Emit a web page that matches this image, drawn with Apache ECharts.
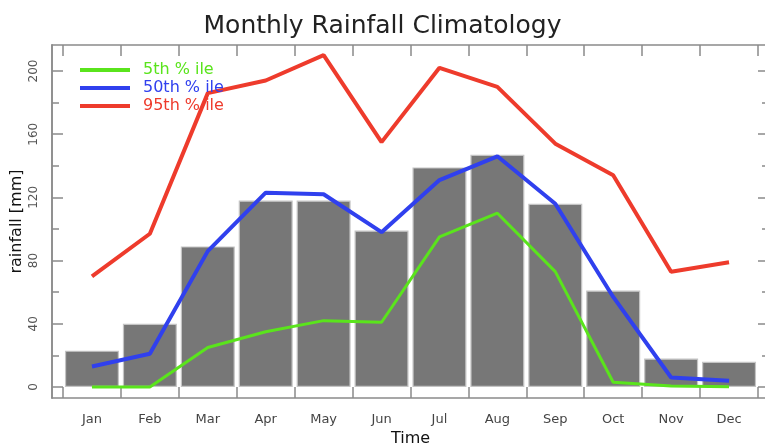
<!DOCTYPE html>
<html>
<head>
<meta charset="utf-8">
<script src="https://cdn.jsdelivr.net/npm/echarts@6/dist/echarts.min.js"></script>
<style>html,body{margin:0;padding:0;background:#fff}#c{width:765px;height:444px}</style>
</head>
<body>
<div id="c"></div>
<script>
// ---- data ----
var months = ['Jan','Feb','Mar','Apr','May','Jun','Jul','Aug','Sep','Oct','Nov','Dec'];
var meanRain = [23, 40, 89, 118, 118, 99, 139, 147, 116, 61, 18, 16];
var p5  = [0, 0, 25, 35, 42, 41, 95, 110, 73, 3, 0.6, 0.2];
var p50 = [13, 21, 86, 123, 122, 98, 131, 146, 116, 57, 6, 4];
var p95 = [70, 97, 186, 194, 210, 155, 202, 190, 154, 134, 73, 79];
var yMajorTicks = [0, 40, 80, 120, 160, 200];
var yMinorTicks = [20, 60, 100, 140, 180];

// ---- layout helpers ----
var font = 'DejaVu Sans';
var axisGray = '#8a8a8a';
var boundaries = months.map(function(m, i){ return i; }).concat([months.length]);
var centers = months.map(function(m, i){ return i + 0.5; });
function pts(arr){ return arr.map(function(v, i){ return [i + 0.5, v]; }); }

var green = '#5ae41c', blue = '#3040ee', red = '#ee3b2c';

var chart = echarts.init(document.getElementById('c'), null, {renderer:'canvas'});
var yBase = {
  type:'value', min:-6.96, max:216.46, splitLine:{show:false},
  axisLine:{show:true, onZero:false, lineStyle:{color:axisGray, width:1.5}}
};
function yAx(pos, ticks, len, labels, extra){
  var o = Object.assign({}, yBase, {
    position:pos,
    axisTick:{show:true, inside:true, length:len, customValues:ticks, lineStyle:{color:axisGray, width:1.5}},
    axisLabel:labels ? {show:true, customValues:ticks, rotate:90, margin:12, color:'#555', fontSize:12, fontFamily:font} : {show:false}
  });
  return Object.assign(o, extra || {});
}
chart.setOption({
  animation:false,
  backgroundColor:'#fff',
  title:{text:'Monthly Rainfall Climatology', left:'center', top:9,
    textStyle:{fontFamily:font, fontSize:25, fontWeight:'normal', color:'#222'}},
  legend:{
    orient:'vertical', left:80, top:62, padding:0, itemWidth:50, itemHeight:4, itemGap:2, icon:'rect',
    data:['5th % ile','50th % ile','95th % ile'],
    formatter:function(name){
      var k = {'5th % ile':'a','50th % ile':'b','95th % ile':'c'}[name];
      return '{' + k + '|' + name + '}';
    },
    textStyle:{fontFamily:font, fontSize:16, lineHeight:16,
      rich:{
        a:{color:green, fontFamily:font, fontSize:16, padding:[0,0,0,8]},
        b:{color:blue, fontFamily:font, fontSize:16, padding:[0,0,0,8]},
        c:{color:red, fontFamily:font, fontSize:16, padding:[0,0,0,8]}
      }}
  },
  grid:{left:52, top:45, width:717, height:353, containLabel:false, outerBoundsMode:'none'},
  xAxis:[
    {type:'value', position:'bottom', min:-0.19, max:12.19, splitLine:{show:false},
     axisLine:{show:true, onZero:false, lineStyle:{color:axisGray, width:1.5}},
     axisTick:{show:true, inside:true, length:11, customValues:boundaries, lineStyle:{color:axisGray, width:1.5}},
     axisLabel:{show:true, customValues:centers, margin:15, color:'#444', fontSize:13, fontFamily:font,
       formatter:function(v){ return months[Math.floor(v)]; }},
     name:'Time', nameLocation:'middle', nameGap:33, nameMoveOverlap:false,
     nameTextStyle:{fontFamily:font, fontSize:16, color:'#111'}},
    {type:'value', position:'top', min:-0.19, max:12.19, splitLine:{show:false},
     axisLine:{show:true, onZero:false, lineStyle:{color:axisGray, width:1.5}},
     axisTick:{show:true, inside:true, length:11, customValues:boundaries, lineStyle:{color:axisGray, width:1.5}},
     axisLabel:{show:false}}
  ],
  yAxis:[
    yAx('left', yMajorTicks, 11, true, {name:'rainfall [mm]', nameLocation:'middle', nameRotate:90, nameGap:27,
      nameMoveOverlap:false, nameTextStyle:{fontFamily:font, fontSize:16, color:'#111'}}),
    yAx('left', yMinorTicks, 7, false),
    yAx('right', yMajorTicks, 11, false),
    yAx('right', yMinorTicks, 7, false)
  ],
  series:[
    {type:'bar', name:'mean', data:pts(meanRain), barWidth:54, xAxisIndex:0, yAxisIndex:0,
     itemStyle:{color:'#777777', borderColor:'#c4c4c4', borderWidth:1.2}},
    {type:'line', name:'95th % ile', data:pts(p95), showSymbol:false, symbol:'none', xAxisIndex:0, yAxisIndex:0,
     lineStyle:{color:red, width:4}, itemStyle:{color:red}},
    {type:'line', name:'50th % ile', data:pts(p50), showSymbol:false, symbol:'none', xAxisIndex:0, yAxisIndex:0,
     lineStyle:{color:blue, width:4}, itemStyle:{color:blue}},
    {type:'line', name:'5th % ile', data:pts(p5), showSymbol:false, symbol:'none', xAxisIndex:0, yAxisIndex:0,
     lineStyle:{color:green, width:3}, itemStyle:{color:green}}
  ]
});
</script>
</body>
</html>
